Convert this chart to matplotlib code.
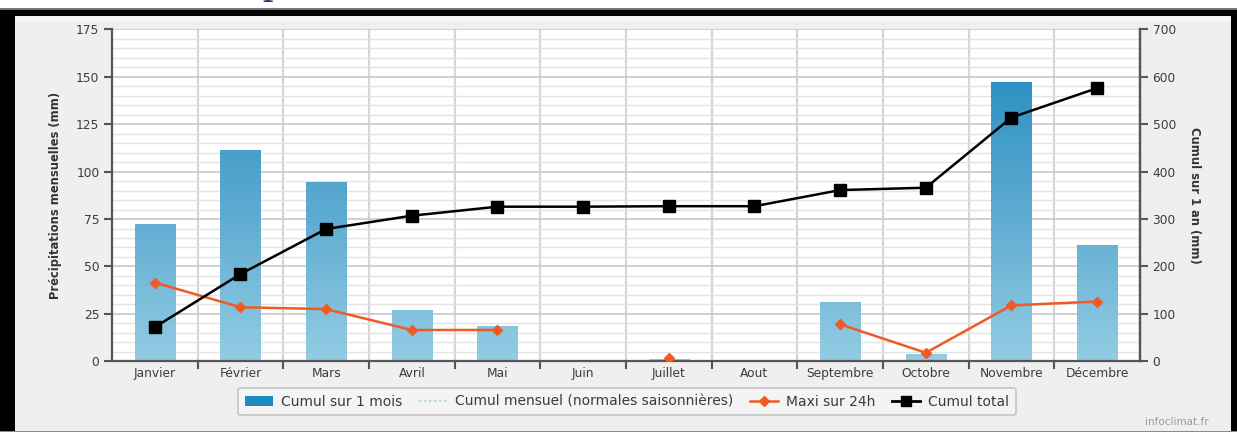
import numpy as np
import matplotlib
matplotlib.use("Agg")
import matplotlib.pyplot as plt
from matplotlib.patches import Rectangle, Patch
from matplotlib.lines import Line2D
from matplotlib.colors import LinearSegmentedColormap

# Monthly precipitation data (mm)
months = ["Janvier", "Février", "Mars", "Avril", "Mai", "Juin", "Juillet",
          "Aout", "Septembre", "Octobre", "Novembre", "Décembre"]
cumul_mois = [72.5, 111.5, 94.5, 27.0, 18.5, 0.0, 1.0, 0.0, 31.0, 4.0, 147.0, 61.5]
maxi_24h = [41.5, 28.5, 27.5, 16.5, 16.5, np.nan, 1.5, np.nan, 19.5, 4.5, 29.5, 31.5]
cumul_total = [72, 184, 279, 307, 326, 326, 327, 327, 361, 366, 514, 576]

legend_labels = ["Cumul sur 1 mois", "Cumul mensuel (normales saisonnières)",
                 "Maxi sur 24h", "Cumul total"]

W, H = 1237, 432
fig = plt.figure(figsize=(W / 100, H / 100), dpi=100, facecolor="#efefef")
plt.rcParams["font.family"] = ["DejaVu Sans"]


def px_rect(x0, y0, w, h, **kw):
    """Rectangle in figure pixels, y measured from the top edge."""
    r = Rectangle((x0 / W, 1 - (y0 + h) / H), w / W, h / H,
                  transform=fig.transFigure, figure=fig, **kw)
    fig.patches.append(r)
    return r


# frame around the panel
px_rect(0, 0, W, 9, facecolor="white", edgecolor="none", zorder=0)
px_rect(0, 8, W, 1.5, facecolor="#777777", edgecolor="none", zorder=0)
px_rect(0, 9.5, W, 6, facecolor="black", edgecolor="none", zorder=0)
px_rect(0, 9.5, 15, H, facecolor="black", edgecolor="none", zorder=0)
px_rect(1231, 9.5, 6, H, facecolor="black", edgecolor="none", zorder=0)
px_rect(15, 15.5, 1216, 6, facecolor="#f5f5f5", edgecolor="none", zorder=0)
px_rect(0, 430.5, W, 1.5, facecolor="#8a8a8a", edgecolor="none", zorder=0)
# descender of the page heading sitting just above the panel
fig.text(272 / W, 1 + 3.5 / H, "p", fontsize=20, fontweight="bold",
         family="DejaVu Serif", color="#2e3f6e", ha="center", va="baseline")

left, right = 112, 1140
top, bottom = 29.3, 361.3
ax = fig.add_axes([left / W, 1 - bottom / H, (right - left) / W, (bottom - top) / H])
ax.set_facecolor("white")

x = np.arange(len(months))
text_col = "#3c3c3c"
axis_col = "#555555"

# bars filled with a vertical gradient
bars = ax.bar(x, cumul_mois, width=0.47, color="none", edgecolor="none", zorder=2)
cmap = LinearSegmentedColormap.from_list("bars", ["#93cce3", "#5eabd1", "#2a8fc1"])
grad = np.linspace(0, 1, 256).reshape(-1, 1)
for b in bars:
    if b.get_height() <= 0:
        continue
    im = ax.imshow(grad, extent=(-0.5, 11.5, 0, 155), origin="lower", cmap=cmap,
                   aspect="auto", zorder=2, interpolation="bilinear")
    im.set_clip_path(b)

ax.plot(x, maxi_24h, color="#f05a23", lw=1.8, marker="D", ms=5.5, zorder=4)

ax.set_xlim(-0.5, 11.5)
ax.set_ylim(0, 175)

# grid
ax.set_yticks(np.arange(0, 176, 25))
ax.set_yticks(np.arange(0, 176, 5), minor=True)
ax.grid(axis="y", which="major", color="#c8c8c8", lw=1.2, zorder=0)
ax.grid(axis="y", which="minor", color="#e3e3e3", lw=1.0, zorder=0)
ax.set_xticks(np.arange(0.5, 11, 1))
ax.set_xticks(x, minor=True)
ax.set_xticklabels([])
ax.set_xticklabels(months, minor=True)
ax.grid(axis="x", which="major", color="#d6d6d6", lw=1.6, zorder=0)
ax.set_axisbelow(True)

ax.tick_params(axis="x", which="major", length=6, width=1.5, color=axis_col, direction="out")
ax.tick_params(axis="x", which="minor", length=0, pad=4, labelsize=8.8, labelcolor=text_col)
ax.tick_params(axis="y", which="major", length=6, width=1.5, color=axis_col,
               labelsize=8.8, labelcolor=text_col, pad=3)
ax.tick_params(axis="y", which="minor", length=0)

ax.spines["top"].set_visible(False)
for side in ["left", "bottom", "right"]:
    ax.spines[side].set_color(axis_col)
    ax.spines[side].set_linewidth(1.6)

ax.set_ylabel("Précipitations mensuelles (mm)", fontsize=8.3, fontweight="bold",
              color="#333333", labelpad=10)

# cumulative total on the right axis
ax2 = ax.twinx()
ax2.plot(x, cumul_total, color="black", lw=1.8, marker="s", ms=8, zorder=5)
ax2.set_ylim(0, 700)
ax2.set_yticks(np.arange(0, 701, 100))
ax2.tick_params(axis="y", length=6, width=1.5, color=axis_col,
                labelsize=8.8, labelcolor=text_col, pad=3)
for side in ["top", "left", "bottom"]:
    ax2.spines[side].set_visible(False)
ax2.spines["right"].set_color(axis_col)
ax2.spines["right"].set_linewidth(1.6)
ax2.set_ylabel("Cumul sur 1 an (mm)", fontsize=8.3, fontweight="bold",
               color="#333333", rotation=270, labelpad=18)

handles = [
    Patch(facecolor="#1d8bc0", edgecolor="none"),
    Line2D([], [], color="#a9d6ec", lw=1.2, ls=(0, (1.5, 1.5))),
    Line2D([], [], color="#f05a23", lw=1.8, marker="D", ms=5),
    Line2D([], [], color="black", lw=2, marker="s", ms=7),
]
leg = fig.legend(handles, legend_labels, loc="center", ncol=4,
                 bbox_to_anchor=(627 / W, 1 - 401.5 / H), fontsize=10,
                 frameon=True, fancybox=True, edgecolor="#c4c4c4", facecolor="#f4f4f4",
                 framealpha=1, handlelength=2.0, handletextpad=0.6, columnspacing=1.2,
                 borderpad=0.5)
for t in leg.get_texts():
    t.set_color(text_col)
leg.get_frame().set_linewidth(1.2)

fig.text(1177 / W, 1 - 422 / H, "infoclimat.fr", fontsize=7.5, color="#9a9a9a",
         ha="center", va="center")

fig.savefig("out.png", dpi=100, facecolor=fig.get_facecolor())
